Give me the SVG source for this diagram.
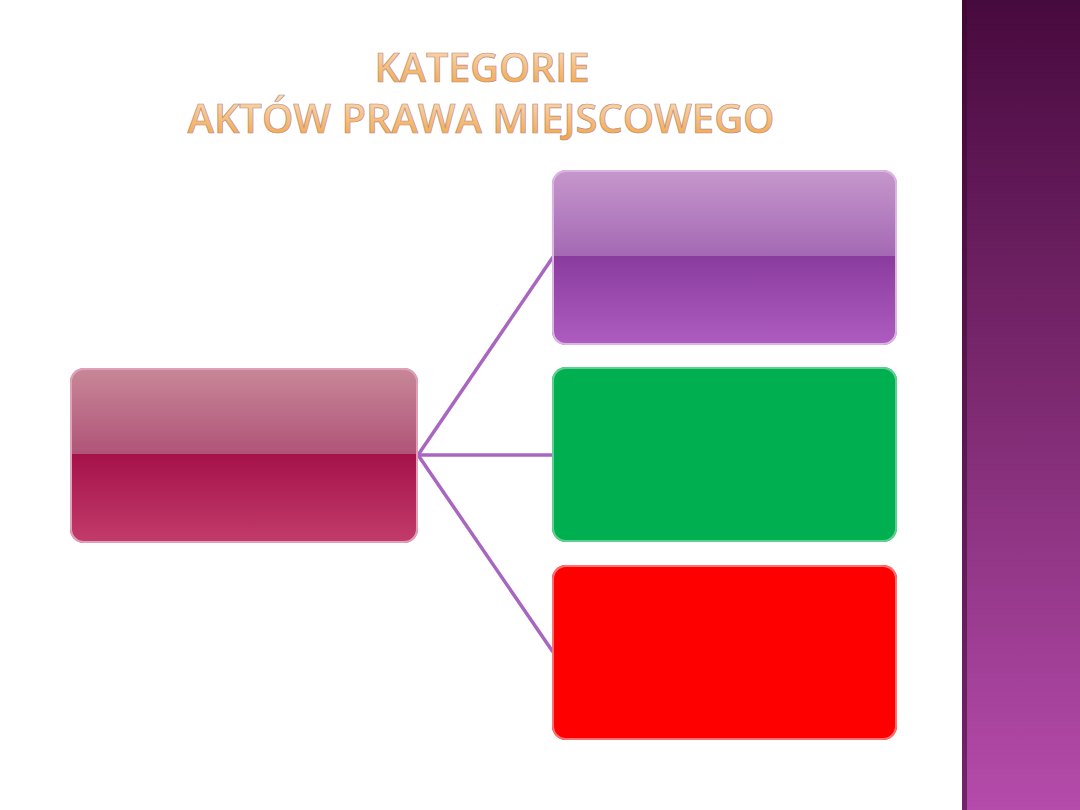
<svg xmlns="http://www.w3.org/2000/svg" width="1080" height="810" viewBox="0 0 1080 810">
<defs>
<linearGradient id="side" x1="0" y1="0" x2="0" y2="1">
<stop offset="0" stop-color="#470a3e"/>
<stop offset="0.5" stop-color="#7e2a72"/>
<stop offset="1" stop-color="#b54bab"/>
</linearGradient>
<linearGradient id="title" x1="0" y1="0" x2="0" y2="1">
<stop offset="0" stop-color="#fbe4c8"/>
<stop offset="0.5" stop-color="#f7c07c"/>
<stop offset="1" stop-color="#f0a038"/>
</linearGradient>
<linearGradient id="maroonTop" x1="0" y1="0" x2="0" y2="1">
<stop offset="0" stop-color="#c88898"/>
<stop offset="1" stop-color="#b05478"/>
</linearGradient>
<linearGradient id="maroonBot" x1="0" y1="0" x2="0" y2="1">
<stop offset="0" stop-color="#a5124a"/>
<stop offset="1" stop-color="#c23c6a"/>
</linearGradient>
<linearGradient id="purpleTop" x1="0" y1="0" x2="0" y2="1">
<stop offset="0" stop-color="#c698cc"/>
<stop offset="1" stop-color="#a468b4"/>
</linearGradient>
<linearGradient id="purpleBot" x1="0" y1="0" x2="0" y2="1">
<stop offset="0" stop-color="#8a3c9e"/>
<stop offset="1" stop-color="#ae5cc0"/>
</linearGradient>
<clipPath id="cL"><rect x="70" y="368" width="348" height="175" rx="14"/></clipPath>
<clipPath id="cP"><rect x="552" y="170" width="345" height="175" rx="14"/></clipPath>
</defs>
<style>
.conn{stroke:#a866c0;stroke-width:3.5;fill:none}
.edge{fill:none;stroke-width:2}
.ttl{font-family:"Open Sans","DejaVu Sans",sans-serif;font-weight:600;font-size:40px;fill:url(#title);stroke:#b88a8a;stroke-width:0.7;text-anchor:middle}
</style>
<rect x="0" y="0" width="1080" height="810" fill="#ffffff"/>
<g id="sidebar">
<rect x="962" y="0" width="118" height="810" fill="url(#side)"/>
<rect x="962" y="0" width="5" height="810" fill="#3a0832" opacity="0.55"/>
</g>
<g id="title-text">
<text class="ttl" x="482" y="82" textLength="215" lengthAdjust="spacingAndGlyphs">KATEGORIE</text>
<text class="ttl" x="481" y="133" textLength="587" lengthAdjust="spacingAndGlyphs">AKTÓW PRAWA MIEJSCOWEGO</text>
</g>
<g id="connectors">
<line class="conn" x1="418" y1="455" x2="553" y2="257"/>
<line class="conn" x1="418" y1="455" x2="553" y2="455"/>
<line class="conn" x1="418" y1="455" x2="553" y2="652"/>
</g>
<g id="node-root">
<g clip-path="url(#cL)">
<rect x="70" y="368" width="348" height="86" fill="url(#maroonTop)"/>
<rect x="70" y="454" width="348" height="89" fill="url(#maroonBot)"/>
</g>
<rect class="edge" x="71" y="369" width="346" height="173" rx="13" stroke="#e0a0b8"/>
</g>
<g id="node-purple">
<g clip-path="url(#cP)">
<rect x="552" y="170" width="345" height="86" fill="url(#purpleTop)"/>
<rect x="552" y="256" width="345" height="89" fill="url(#purpleBot)"/>
</g>
<rect class="edge" x="553" y="171" width="343" height="173" rx="13" stroke="#dcb4e4"/>
</g>
<g id="node-green">
<rect x="552" y="367" width="345" height="175" rx="14" fill="#00b050"/>
<rect class="edge" x="553" y="368" width="343" height="173" rx="13" stroke="#60d090"/>
</g>
<g id="node-red">
<rect x="552" y="565" width="345" height="175" rx="14" fill="#ff0000"/>
<rect class="edge" x="553" y="566" width="343" height="173" rx="13" stroke="#ff7070"/>
</g>
</svg>
